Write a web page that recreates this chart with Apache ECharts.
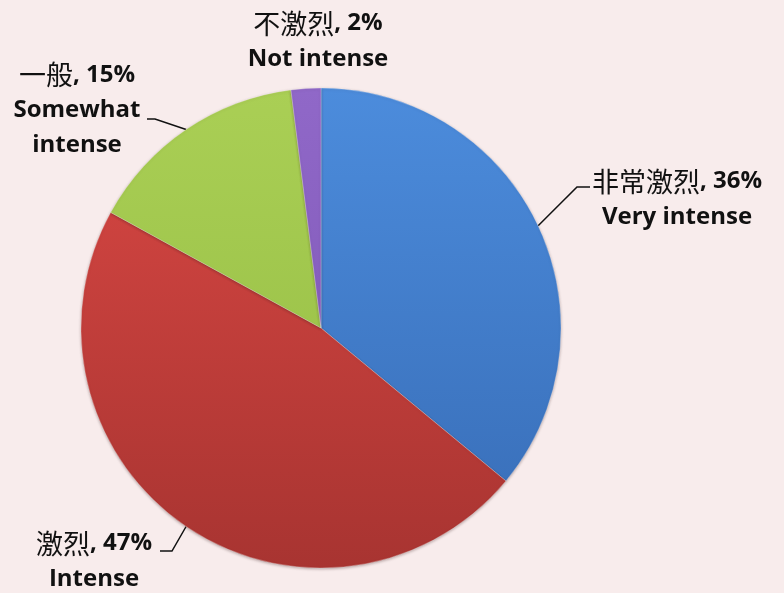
<!DOCTYPE html>
<html>
<head>
<meta charset="utf-8">
<script src="https://cdn.jsdelivr.net/npm/echarts@6/dist/echarts.min.js"></script>
<style>
  html, body { margin: 0; padding: 0; background: #F8ECEC; }
  #chart { width: 784px; height: 593px; }
</style>
</head>
<body>
<div id="chart"></div>
<script>
// Survey answers: how intense is the competition
const namesCn = ['非常激烈', '激烈', '一般', '不激烈'];
const namesEn = ['Very intense', 'Intense', 'Somewhat\nintense', 'Not intense'];
const shares = [36, 47, 15, 2];

// Slice colours: top and bottom of the vertical shading
const colorsTop = ['#4C8CDC', '#DA4844', '#AACF55', '#9068C8'];
const colorsBottom = ['#376CB6', '#A83431', '#93BB42', '#7A53B2'];

// Where each label block sits (centre of the text block)
const labelSpots = [
  { x: 677, y: 199 },
  { x: 94, y: 561 },
  { x: 77, y: 110 },
  { x: 318, y: 41 }
];
// Leader line elbow and end for each label
const leaderBends = [
  [[577, 187], [590, 187]],
  [[172, 551], [160, 551]],
  [[155, 119], [147, 119]],
  null
];

const cx = 321, cy = 328, r = 240;

function enLines(s) {
  return s.split('\n').map(t => '{en|' + t + '}').join('\n');
}

const data = shares.map((v, i) => ({
  value: v,
  name: namesEn[i],
  itemStyle: {
    color: {
      type: 'linear', global: true,
      x: 0, y: cy - r, x2: 0, y2: cy + r,
      colorStops: [
        { offset: 0, color: colorsTop[i] },
        { offset: 1, color: colorsBottom[i] }
      ]
    }
  },
  label: {
    formatter: '{cn|' + namesCn[i] + '}{en|, ' + v + '%}\n' + enLines(namesEn[i])
  },
  labelLine: { show: i !== 3 }
}));

const chart = echarts.init(document.getElementById('chart'), null, { renderer: 'canvas' });
chart.setOption({
  backgroundColor: '#F8ECEC',
  animation: false,
  series: [{
    type: 'pie',
    center: [cx, cy],
    radius: [0, r],
    startAngle: 90,
    clockwise: true,
    data: data,
    itemStyle: {
      borderColor: 'rgba(255,255,255,0.25)',
      borderWidth: 1,
      shadowColor: 'rgba(60,30,30,0.35)',
      shadowBlur: 3,
      shadowOffsetY: 1
    },
    label: {
      show: true,
      position: 'outside',
      align: 'center',
      overflow: 'none',
      color: '#111',
      rich: {
        cn: {
          fontFamily: '"Noto Sans CJK SC", sans-serif',
          fontSize: 27,
          fontWeight: 'normal',
          color: '#111',
          lineHeight: 36
        },
        en: {
          fontFamily: '"Open Sans", Lato, sans-serif',
          fontSize: 24,
          fontWeight: 'bold',
          color: '#111',
          lineHeight: 35
        }
      }
    },
    labelLine: {
      show: true,
      length: 20,
      length2: 12,
      lineStyle: { color: '#111', width: 1.5 }
    },
    labelLayout: function (p) {
      const s = labelSpots[p.dataIndex];
      const out = { x: s.x, y: s.y, align: 'center', verticalAlign: 'middle' };
      const bend = leaderBends[p.dataIndex];
      if (bend && p.labelLinePoints) {
        out.labelLinePoints = [p.labelLinePoints[0], bend[0], bend[1]];
      }
      return out;
    }
  }]
});
</script>
</body>
</html>
